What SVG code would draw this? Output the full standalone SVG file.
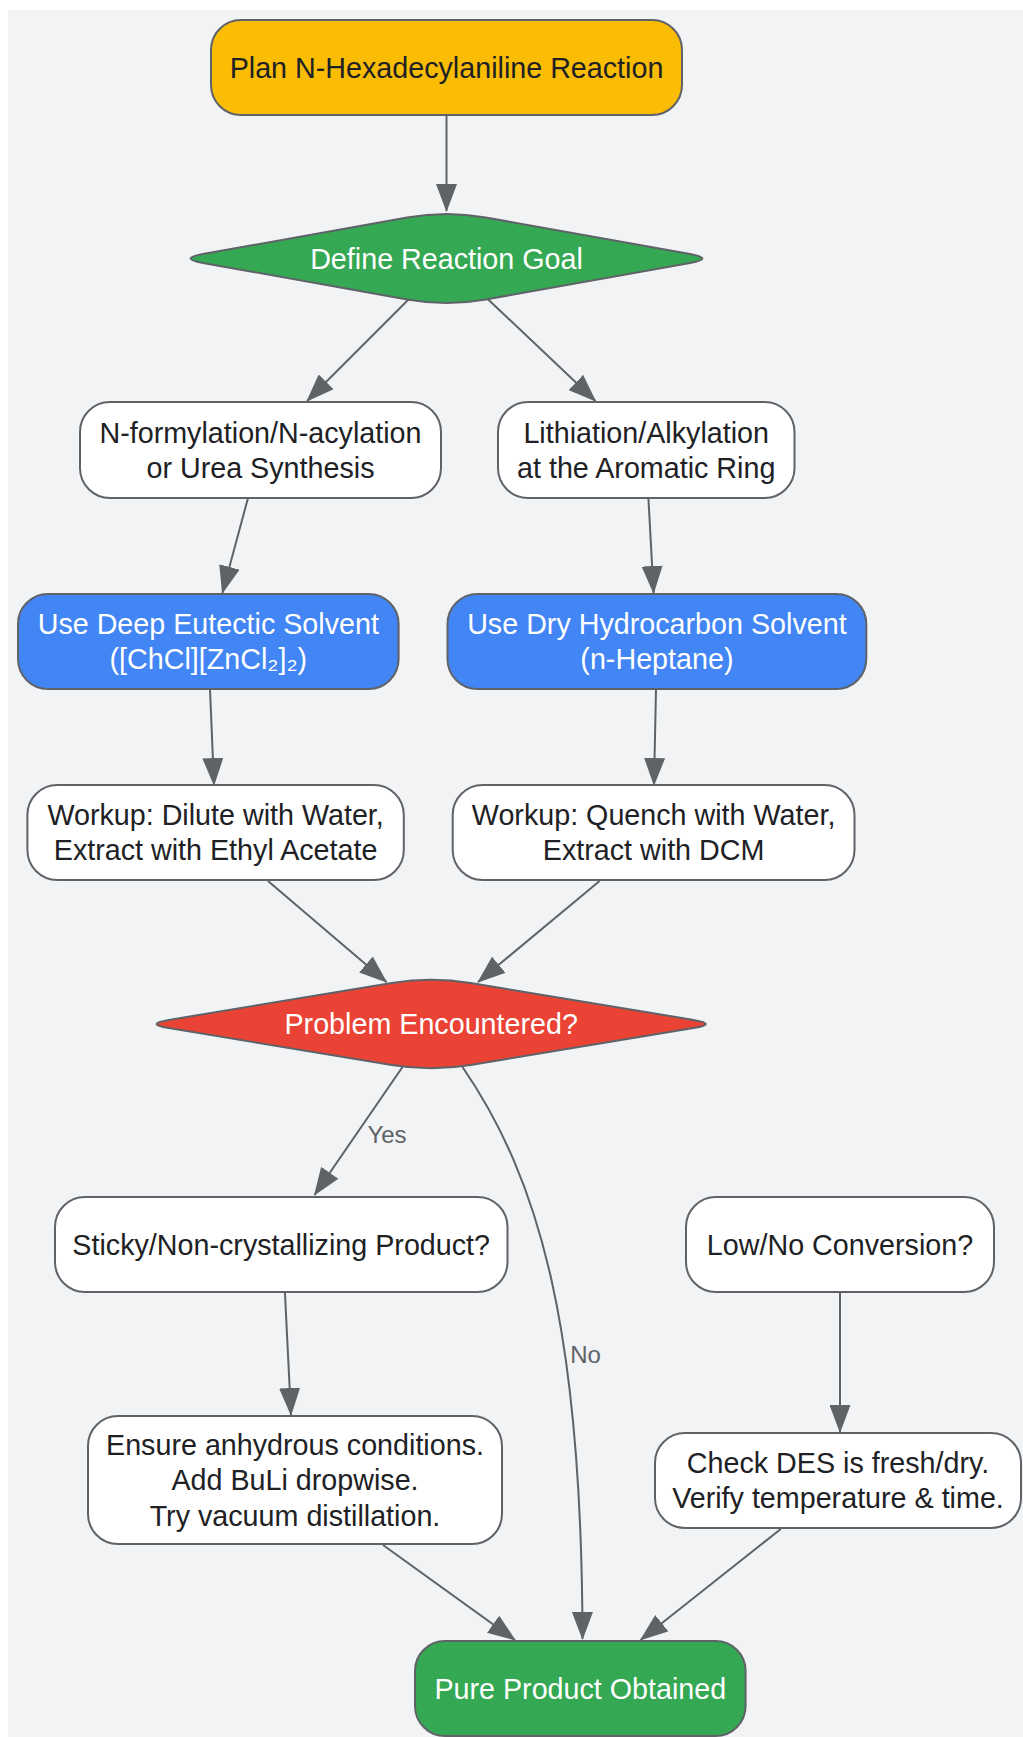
<svg xmlns="http://www.w3.org/2000/svg" width="1023" height="1737" viewBox="0 0 1023 1737">
<style>
.n{stroke:#5f6368;stroke-width:2}
.w{fill:#ffffff}
.t{font-family:"Liberation Sans",Arial,sans-serif;font-size:28.7px;text-anchor:middle;fill:#202124}
.tw{fill:#ffffff}
.e{fill:none;stroke:#5f6368;stroke-width:2;marker-end:url(#ah)}
.lb{font-family:"Liberation Sans",Arial,sans-serif;font-size:24px;fill:#5f6368;text-anchor:middle}
</style>
<defs>
<marker id="ah" viewBox="0 0 28 21" refX="27" refY="10.5" markerWidth="28" markerHeight="21" markerUnits="userSpaceOnUse" orient="auto">
<path d="M0,0 L28,10.5 L0,21 Z" fill="#5f6368"/>
</marker>
</defs>
<rect x="0" y="0" width="1023" height="1737" fill="#ffffff"/>
<rect x="8" y="10" width="1015" height="1727" fill="#f1f3f4"/>
<g id="connectors">
<path class="e" d="M446.5,115 L446.5,211"/>
<path class="e" d="M409,299 L307,401"/>
<path class="e" d="M487.7,299 L595.5,401"/>
<path class="e" d="M248,498 L222.4,593"/>
<path class="e" d="M648.4,498 L653.6,593"/>
<path class="e" d="M210,689 L214,785"/>
<path class="e" d="M656,689 L654,785"/>
<path class="e" d="M268,881 L386.5,982"/>
<path class="e" d="M599.6,881 L478,982"/>
<path class="e" d="M402.5,1067 L314.5,1195"/>
<path class="e" d="M462.5,1067 C540,1180 582,1330 582.5,1639"/>
<path class="e" d="M284.9,1292 L291,1415"/>
<path class="e" d="M840,1292 L840,1432"/>
<path class="e" d="M383,1545 L515,1640"/>
<path class="e" d="M780.8,1529 L640.6,1640"/>
<text class="lb" x="387" y="1142.7">Yes</text>
<text class="lb" x="585.5" y="1362.7">No</text>
</g>
<g id="plan">
<rect class="n" x="211" y="20" width="471" height="95" rx="30" fill="#fbbc04"/>
<text class="t" x="446.5" y="77.5">Plan N-Hexadecylaniline Reaction</text>
</g>
<g id="goal">
<path class="n" fill="#34a853" d="M407.12,217.55 Q446.5,210.5 485.88,217.55 L690.09,254.09 Q714.7,258.5 690.09,262.91 L485.88,299.45 Q446.5,306.5 407.12,299.45 L202.91,262.91 Q178.3,258.5 202.91,254.09 Z"/>
<text class="t tw" x="446.5" y="268.5">Define Reaction Goal</text>
</g>
<g id="formylation">
<rect class="n w" x="80" y="402" width="361" height="96" rx="30"/>
<text class="t" x="260.5" y="442.5">N-formylation/N-acylation</text>
<text class="t" x="260.5" y="477.5">or Urea Synthesis</text>
</g>
<g id="lithiation">
<rect class="n w" x="498" y="402" width="296.5" height="96" rx="30"/>
<text class="t" x="646.2" y="442.5">Lithiation/Alkylation</text>
<text class="t" x="646.2" y="477.5">at the Aromatic Ring</text>
</g>
<g id="des">
<rect class="n" x="18" y="594" width="380.6" height="95" rx="30" fill="#4285f4"/>
<text class="t tw" x="208.3" y="634">Use Deep Eutectic Solvent</text>
<text class="t tw" x="208.3" y="669">([ChCl][ZnCl₂]₂)</text>
</g>
<g id="heptane">
<rect class="n" x="447.5" y="594" width="418.8" height="95" rx="30" fill="#4285f4"/>
<text class="t tw" x="656.9" y="634">Use Dry Hydrocarbon Solvent</text>
<text class="t tw" x="656.9" y="669">(n-Heptane)</text>
</g>
<g id="workup1">
<rect class="n w" x="27.4" y="785" width="376.4" height="95" rx="30"/>
<text class="t" x="215.6" y="825">Workup: Dilute with Water,</text>
<text class="t" x="215.6" y="860">Extract with Ethyl Acetate</text>
</g>
<g id="workup2">
<rect class="n w" x="452.7" y="785" width="401.8" height="95" rx="30"/>
<text class="t" x="653.6" y="825">Workup: Quench with Water,</text>
<text class="t" x="653.6" y="860">Extract with DCM</text>
</g>
<g id="problem">
<path class="n" fill="#ea4335" d="M391.74,983.03 Q431.2,976.5 470.66,983.03 L693.54,1019.92 Q718.2,1024 693.54,1028.08 L470.66,1064.97 Q431.2,1071.5 391.74,1064.97 L168.86,1028.08 Q144.2,1024 168.86,1019.92 Z"/>
<text class="t tw" x="431.2" y="1034">Problem Encountered?</text>
</g>
<g id="sticky">
<rect class="n w" x="55" y="1197" width="452.5" height="95" rx="30"/>
<text class="t" x="281.2" y="1254.5">Sticky/Non-crystallizing Product?</text>
</g>
<g id="lowconv">
<rect class="n w" x="686" y="1197" width="308" height="95" rx="30"/>
<text class="t" x="840" y="1254.5">Low/No Conversion?</text>
</g>
<g id="ensure">
<rect class="n w" x="88" y="1416" width="414" height="128" rx="30"/>
<text class="t" x="295" y="1454.5">Ensure anhydrous conditions.</text>
<text class="t" x="295" y="1490">Add BuLi dropwise.</text>
<text class="t" x="295" y="1525.5">Try vacuum distillation.</text>
</g>
<g id="check">
<rect class="n w" x="655" y="1433" width="366" height="95" rx="30"/>
<text class="t" x="838" y="1473">Check DES is fresh/dry.</text>
<text class="t" x="838" y="1508">Verify temperature &amp; time.</text>
</g>
<g id="pure">
<rect class="n" x="415" y="1641" width="330.6" height="95" rx="30" fill="#34a853"/>
<text class="t tw" x="580.3" y="1698.5">Pure Product Obtained</text>
</g>
</svg>
